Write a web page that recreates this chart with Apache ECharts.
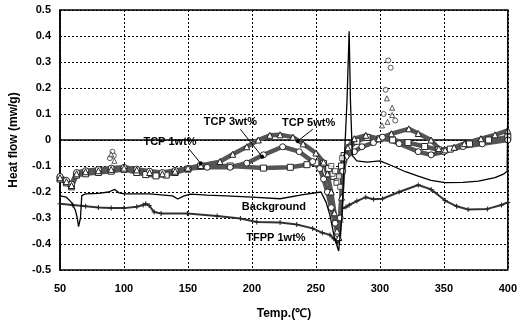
<!DOCTYPE html>
<html>
<head>
<meta charset="utf-8">
<script src="https://cdn.jsdelivr.net/npm/echarts@6/dist/echarts.min.js"></script>
<style>
  html, body { margin: 0; padding: 0; background: #fff; }
  #chart { width: 520px; height: 325px; }
</style>
</head>
<body>
<div id="chart"></div>
<script>
// [temp (C), heat flow (mw/g)]
const background = [
  [50, -0.215], [55, -0.22], [59, -0.24], [62, -0.27], [63.5, -0.30], [64.5, -0.333], [66, -0.30], [67, -0.214],
  [70, -0.207], [80, -0.205], [88, -0.2], [92.8, -0.19], [96, -0.203], [100, -0.207], [120, -0.207],
  [138, -0.215], [142, -0.227], [147, -0.215], [152, -0.208], [165, -0.212], [180, -0.215], [200, -0.22],
  [222, -0.226], [240, -0.21], [254, -0.2], [258, -0.24], [261, -0.29], [264.5, -0.376], [267.8, -0.427],
  [270.4, -0.29], [272, -0.1], [274.3, 0.15], [276, 0.418], [277, 0.15], [278.5, -0.06], [282, -0.08],
  [290, -0.085], [300, -0.08], [310, -0.1], [320, -0.122], [330, -0.139], [340, -0.155], [351, -0.164],
  [365, -0.163], [377, -0.158], [390, -0.145], [397, -0.13], [399.5, -0.12], [400, 0.16]
];
const tfpp1 = [
  [50, -0.245], [60, -0.25], [70, -0.255], [80, -0.26], [90, -0.262], [100, -0.262], [110, -0.257],
  [115, -0.25], [117, -0.245], [119.7, -0.252], [123.6, -0.277], [129, -0.283], [149.6, -0.283],
  [172.8, -0.292], [191, -0.302], [203.8, -0.315], [222, -0.317], [235, -0.325], [247.5, -0.34],
  [255, -0.357], [261, -0.365], [264, -0.38], [267, -0.395], [269.6, -0.315], [270.7, -0.263],
  [273.5, -0.258], [276, -0.25], [282, -0.235], [289, -0.22], [295, -0.228], [302, -0.226],
  [315, -0.2], [330, -0.173], [340, -0.19], [351, -0.233], [360, -0.255], [369, -0.267],
  [384, -0.265], [395, -0.25], [400, -0.24]
];
const tcp1 = [
  [50, -0.15], [55, -0.165], [59, -0.18], [63, -0.135], [70, -0.13], [80, -0.125], [90, -0.12],
  [100, -0.113], [110, -0.125], [117, -0.133], [125, -0.138], [133, -0.135], [140, -0.125],
  [150, -0.112], [160, -0.1], [183, -0.1], [209, -0.108], [230, -0.105], [243, -0.095], [250, -0.088],
  [256, -0.09], [260, -0.11], [264, -0.14], [267, -0.16], [270, -0.1], [272, -0.06], [276, -0.03],
  [282, -0.005], [290, 0.01], [300, 0.005], [310, 0.0], [322, -0.01], [335, -0.025], [346, -0.038],
  [355, -0.035], [370, -0.015], [385, 0.0], [400, 0.011]
];
const tcp3 = [
  [50, -0.14], [55, -0.155], [59, -0.17], [63, -0.125], [70, -0.118], [80, -0.113], [90, -0.108],
  [100, -0.105], [110, -0.112], [120, -0.12], [130, -0.125], [140, -0.117], [150, -0.11],
  [165, -0.105], [183, -0.105], [196, -0.089], [209, -0.057], [224, -0.026], [237, -0.045],
  [247.5, -0.083], [253, -0.11], [256, -0.15], [259, -0.2], [262, -0.26], [265, -0.32], [267, -0.36],
  [269, -0.3], [271, -0.12], [273.5, -0.064], [280, -0.045], [286, -0.026], [295, -0.01], [302, 0.011],
  [315, -0.014], [330, -0.045], [340, -0.057], [350, -0.045], [365, -0.025], [380, -0.015], [400, 0.0]
];
const tcp5 = [
  [50, -0.145], [55, -0.16], [59, -0.175], [63, -0.13], [70, -0.122], [80, -0.118], [90, -0.113],
  [100, -0.108], [110, -0.115], [120, -0.125], [130, -0.13], [140, -0.12], [150, -0.108],
  [160, -0.098], [175, -0.083], [185, -0.055], [196, -0.026], [205, 0.0], [214, 0.018], [222, 0.02],
  [232, 0.011], [240, -0.015], [250, -0.05], [256, -0.085], [259, -0.13], [262, -0.2], [264.5, -0.28],
  [266.5, -0.35], [268, -0.375], [270, -0.22], [272, -0.07], [275, -0.03], [280, 0.005], [289, 0.018],
  [299, 0.005], [309, 0.024], [322.6, 0.043], [330, 0.025], [340, 0.0], [346, -0.033], [351, -0.038],
  [358, -0.028], [366, -0.014], [379, 0.005], [390, 0.02], [400, 0.037]
];
// loose markers that sit off the bands
const tcp1Stray = [[262, -0.1], [263, -0.13], [265, -0.12], [266, -0.165], [268, -0.14], [269, -0.18], [270.5, -0.07]];
const tcp3Stray = [[89, -0.07], [91, -0.045], [92, -0.06], [306.5, 0.306], [308.4, 0.278], [304.5, 0.193], [303, 0.1], [312, 0.075]];
const tcp5Stray = [[90, -0.055], [92.5, -0.08], [305.5, 0.16], [309.6, 0.124], [309.6, 0.096], [301.7, 0.056], [306, 0.07]];

const xTicks = [50, 100, 150, 200, 250, 300, 350, 400];
const notes = [
  { text: 'TCP 1wt%', at: [136, -0.008], from: [150.7, -0.034], to: [160, -0.09] },
  { text: 'TCP 3wt%', at: [183.2, 0.068], from: [191, 0.041], to: [208, -0.064] },
  { text: 'TCP 5wt%', at: [244.3, 0.064], from: [247.5, 0.041], to: [235.8, -0.004] },
  { text: 'Background', at: [217.2, -0.259] },
  { text: 'TFPP 1wt%', at: [218.8, -0.376] }
];

const font = 'Liberation Sans, Arial, sans-serif';
const plus = 'path://M4,0H6V4H10V6H6V10H4V6H0V4H4Z';

const chart = echarts.init(document.getElementById('chart'));

function band(name, data, symbol) {
  return {
    name: name,
    type: 'line',
    data: data,
    symbol: symbol,
    symbolSize: 6,
    showSymbol: true,
    lineStyle: { color: '#555', width: 4.5 },
    itemStyle: { color: '#fff', borderColor: '#222', borderWidth: 1 },
    z: 3,
  };
}

function stray(data, symbol) {
  return {
    type: 'scatter',
    data: data,
    symbol: symbol,
    symbolSize: 5,
    itemStyle: { color: '#fff', borderColor: '#333', borderWidth: 1 },
    z: 4,
  };
}

chart.setOption({
  animation: false,
  textStyle: { fontFamily: font },
  grid: {
    left: 58,
    right: 10,
    top: 10,
    bottom: 49,
    show: true,
    borderColor: '#000',
    borderWidth: 1.5,
  },
  xAxis: {
    type: 'value',
    min: 50,
    max: 400,
    interval: 50,
    name: 'Temp.(\u2103)',
    nameLocation: 'middle',
    nameGap: 38,
    nameTextStyle: { fontSize: 12, fontWeight: 'bold', color: '#000', fontFamily: font },
    axisLine: { lineStyle: { color: '#000', width: 1.5 } },
    axisTick: { show: false },
    axisLabel: {
      margin: 13,
      fontSize: 11,
      fontWeight: 'bold',
      color: '#000',
      customValues: xTicks,
    },
    splitLine: { lineStyle: { color: '#000', type: [2, 2], width: 1 } },
  },
  yAxis: {
    type: 'value',
    min: -0.5,
    max: 0.5,
    interval: 0.1,
    name: 'Heat flow (mw/g)',
    nameLocation: 'middle',
    nameGap: 40,
    nameTextStyle: { fontSize: 12, fontWeight: 'bold', color: '#000', fontFamily: font },
    axisLine: { lineStyle: { color: '#000', width: 1.5 } },
    axisTick: { show: false },
    axisLabel: {
      margin: 9,
      fontSize: 11,
      fontWeight: 'bold',
      color: '#000',
      formatter: (v) => {
        const r = Math.round(v * 10) / 10
        return r === 0 ? '0' : r.toFixed(1)
      },
    },
    splitLine: { lineStyle: { color: '#000', type: [2, 2], width: 1 } },
  },
  series: [
    {
      name: 'TFPP 1wt%',
      type: 'line',
      data: tfpp1,
      symbol: plus,
      symbolSize: 5,
      lineStyle: { color: '#333', width: 2 },
      itemStyle: { color: '#222' },
      z: 2,
    },
    band('TCP 1wt%', tcp1, 'rect'),
    band('TCP 3wt%', tcp3, 'circle'),
    band('TCP 5wt%', tcp5, 'triangle'),
    stray(tcp1Stray, 'rect'),
    stray(tcp3Stray, 'circle'),
    stray(tcp5Stray, 'triangle'),
    {
      name: 'Background',
      type: 'line',
      data: background,
      symbol: 'none',
      lineStyle: { color: '#000', width: 1.3 },
      z: 5,
      markLine: {
        silent: true,
        symbol: ['none', 'circle'],
        symbolSize: 4,
        label: { show: false },
        lineStyle: { color: '#000', width: 1, type: 'solid' },
        data: notes.filter((n) => n.from).map((n) => [{ coord: n.from }, { coord: n.to }]),
      },
    },
  ],
})

// annotation texts placed in data coordinates
chart.setOption({
  graphic: notes.map((n) => {
    const p = chart.convertToPixel({ gridIndex: 0 }, n.at)
    return {
      type: 'text',
      x: p[0],
      y: p[1],
      z: 10,
      style: {
        text: n.text,
        font: 'bold 11px ' + font,
        fill: '#000',
        align: 'center',
        verticalAlign: 'middle',
      },
    }
  }),
})
</script>
</body>
</html>
